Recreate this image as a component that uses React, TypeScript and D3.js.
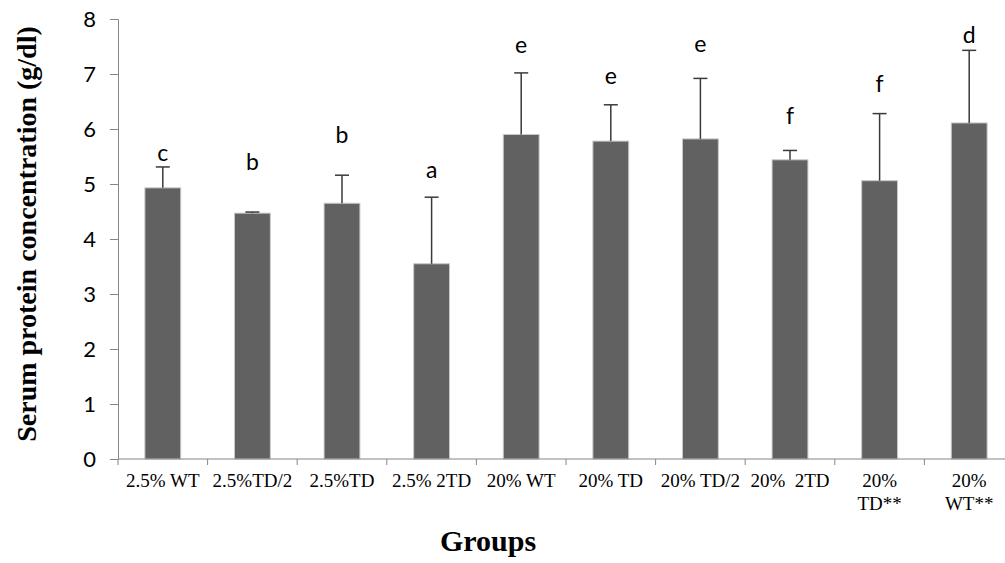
import React from 'react';
import * as d3 from 'd3';

// group names ("\n" marks where the original label wraps)
const groups = [
  '2.5% WT', '2.5%TD/2', '2.5%TD', '2.5% 2TD', '20% WT',
  '20% TD', '20% TD/2', '20%  2TD', '20%\nTD**', '20%\nWT**',
];
const means = [4.93, 4.47, 4.65, 3.55, 5.90, 5.78, 5.82, 5.44, 5.06, 6.11];
const errors = [0.38, 0.02, 0.51, 1.21, 1.12, 0.66, 1.10, 0.17, 1.22, 1.32];
const letters = ['c', 'b', 'b', 'a', 'e', 'e', 'e', 'f', 'f', 'd'];
// where each significance letter sits (baseline, in g/dl)
const letterLevels = [5.41, 5.25, 5.75, 5.11, 7.38, 6.82, 7.40, 6.09, 6.67, 7.56];
const yTicks = [0, 1, 2, 3, 4, 5, 6, 7, 8];

const App = () => {
  const ref = React.useRef<SVGSVGElement>(null);

  React.useEffect(() => {
    const svg = d3.select(ref.current);
    svg.selectAll('*').remove();

    const left = 118;
    const right = 1014;
    const top = 19;
    const bottom = 459;

    const x = d3.scaleBand<number>()
      .domain(groups.map((_, i) => i))
      .range([left, right])
      .paddingInner(0.6)
      .paddingOuter(0.3);
    const band = (right - left) / groups.length;
    const y = d3.scaleLinear().domain([0, 8]).range([bottom, top]);

    const axisColor = '#868686';
    const sans = 'Lato, "Open Sans", sans-serif';
    const serif = '"Liberation Serif", "Times New Roman", serif';

    // y axis
    const yAxis = svg.append('g')
      .attr('transform', `translate(${left},0)`)
      .call(d3.axisLeft(y).tickValues(yTicks).tickSize(8).tickPadding(14).tickFormat(d3.format('d')));
    yAxis.select('.domain').attr('stroke', axisColor);
    yAxis.selectAll('.tick line').attr('stroke', axisColor);
    yAxis.selectAll('.tick text')
      .style('font-family', sans)
      .style('font-size', '22px')
      .attr('fill', '#000');

    // bars
    svg.selectAll('.bar')
      .data(means)
      .enter()
      .append('rect')
      .attr('class', 'bar')
      .attr('x', (_, i) => x(i)!)
      .attr('y', d => y(d))
      .attr('width', x.bandwidth())
      .attr('height', d => bottom - y(d))
      .attr('fill', '#616161')
      .attr('stroke', '#c8c8c8')
      .attr('stroke-width', 1);

    // error bars (upper only)
    const err = svg.selectAll('.err')
      .data(means)
      .enter()
      .append('g')
      .attr('class', 'err')
      .attr('stroke', '#3a3a3a')
      .attr('stroke-width', 1.5);
    err.append('line')
      .attr('x1', (_, i) => x(i)! + x.bandwidth() / 2)
      .attr('x2', (_, i) => x(i)! + x.bandwidth() / 2)
      .attr('y1', d => y(d))
      .attr('y2', (d, i) => y(d + errors[i]));
    err.append('line')
      .attr('x1', (_, i) => x(i)! + x.bandwidth() / 2 - 7)
      .attr('x2', (_, i) => x(i)! + x.bandwidth() / 2 + 7)
      .attr('y1', (d, i) => y(d + errors[i]))
      .attr('y2', (d, i) => y(d + errors[i]));

    // significance letters
    svg.selectAll('.letter')
      .data(letters)
      .enter()
      .append('text')
      .attr('class', 'letter')
      .attr('x', (_, i) => x(i)! + x.bandwidth() / 2)
      .attr('y', (_, i) => y(letterLevels[i]))
      .attr('text-anchor', 'middle')
      .style('font-family', sans)
      .style('font-size', '23px')
      .attr('fill', '#000')
      .text(d => d);

    // x axis line + ticks at band edges
    svg.append('line')
      .attr('x1', left).attr('x2', right)
      .attr('y1', bottom).attr('y2', bottom)
      .attr('stroke', axisColor);
    svg.selectAll('.xtick')
      .data(d3.range(groups.length + 1))
      .enter()
      .append('line')
      .attr('x1', i => left + i * band)
      .attr('x2', i => left + i * band)
      .attr('y1', bottom)
      .attr('y2', bottom + 6)
      .attr('stroke', axisColor);

    // category labels
    const labels = svg.selectAll('.xlabel')
      .data(groups)
      .enter()
      .append('text')
      .attr('class', 'xlabel')
      .attr('text-anchor', 'middle')
      .attr('transform', (_, i) => `translate(${x(i)! + x.bandwidth() / 2},487)`)
      .style('font-family', serif)
      .style('font-size', '19px')
      .style('white-space', 'pre')
      .attr('fill', '#000');
    labels.selectAll('tspan')
      .data(d => d.split('\n'))
      .enter()
      .append('tspan')
      .attr('x', 0)
      .attr('dy', (_, j) => (j === 0 ? 0 : 23))
      .text(d => d);

    // axis titles
    svg.append('text')
      .attr('x', 488)
      .attr('y', 551)
      .attr('text-anchor', 'middle')
      .style('font-family', serif)
      .style('font-size', '30px')
      .style('font-weight', 'bold')
      .attr('fill', '#000')
      .text('Groups');

    svg.append('text')
      .attr('transform', 'translate(36,234) rotate(-90)')
      .attr('text-anchor', 'middle')
      .style('font-family', serif)
      .style('font-size', '28px')
      .style('font-weight', 'bold')
      .attr('fill', '#000')
      .text('Serum protein concentration (g/dl)');
  }, []);

  return (
    <svg
      ref={ref}
      width={1005}
      height={563}
      style={{ position: 'absolute', left: 0, top: 0, background: '#fff' }}
    />
  );
};

export default App;
